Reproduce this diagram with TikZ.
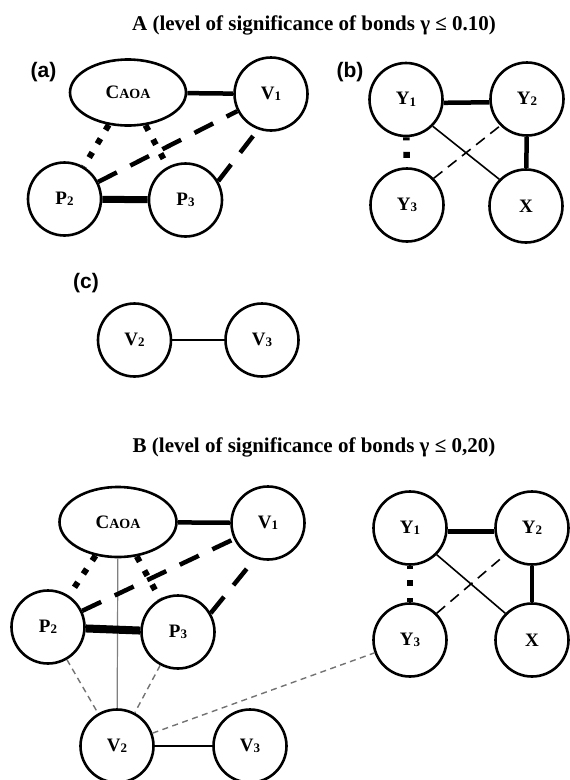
\documentclass[tikz,border=0pt]{standalone}
\usepackage{fontspec}
\setmainfont{Liberation Serif}
\newfontfamily\panelfont{Liberation Sans}
\usetikzlibrary{shapes.geometric}

% subscript index set small and slightly lowered
\newcommand{\idx}[1]{\raisebox{-1.5pt}{\fontsize{13}{13}\selectfont #1}}
\newcommand{\caoa}{C{\fontsize{14}{14}\selectfont AOA}}

\tikzset{
  vnode/.style={circle, draw, line width=2.6pt, minimum size=73pt, inner sep=0pt,
    font=\fontsize{19}{19}\selectfont\bfseries},
  cnode/.style={ellipse, draw, line width=2.6pt, minimum width=116pt, minimum height=66pt,
    inner sep=0pt, font=\fontsize{19}{19}\selectfont\bfseries},
  strongbond/.style={line width=4.5pt},
  strongestbond/.style={line width=7pt},
  dotbond/.style={line width=6pt, dash pattern=on 6pt off 10pt},
  dashbond/.style={line width=4.5pt, dash pattern=on 21pt off 15pt},
  thinbond/.style={line width=1.6pt},
  thindash/.style={line width=1.6pt, dash pattern=on 11pt off 7pt},
  graysolid/.style={line width=1.2pt, draw=black!50},
  graydash/.style={line width=1.4pt, draw=black!55, dash pattern=on 6pt off 4.5pt},
  panellabel/.style={font=\panelfont\bfseries\fontsize{21}{21}\selectfont},
  heading/.style={font=\bfseries\fontsize{21}{21}\selectfont, anchor=base},
}

\begin{document}
\begin{tikzpicture}[x=1pt, y=-1pt]
\useasboundingbox (0,0) rectangle (570,780);
\clip (0,0) rectangle (570,780);

% ---------- A ----------
\node[heading] (titleA) at (314,30.7) {A (level of significance of bonds γ ≤ 0.10)};

% (a)
\node[panellabel] (labA) at (43.5,72) {(a)};
\node[cnode] (CA)  at (128,92.5) {\caoa};
\node[vnode] (V1A) at (271,94)   {V\idx{1}};
\node[vnode] (P2A) at (64.5,199) {P\idx{2}};
\node[vnode] (P3A) at (185.5,200) {P\idx{3}};

\draw[strongbond] (CA) -- (V1A);
\draw[strongestbond] (P2A) -- (P3A);
\draw[dotbond] (CA) -- (P2A);
\draw[dotbond] (CA) -- (P3A);
\draw[dashbond] (P2A) -- (V1A);
\draw[dashbond] (P3A.30) -- (V1A.-110);

% (b)
\node[panellabel] (labB) at (350,72) {(b)};
\node[vnode] (Y1A) at (406,99.5) {Y\idx{1}};
\node[vnode] (Y2A) at (527,99)   {Y\idx{2}};
\node[vnode] (Y3A) at (407,205)  {Y\idx{3}};
\node[vnode] (XA)  at (526,206)  {X};

\draw[strongbond] (Y1A.-5) -- (Y2A.-175);
\draw[strongbond] (Y2A) -- (XA);
\draw[dotbond, dash pattern=on 6pt off 11.5pt, dash phase=3pt, line width=6.5pt] (Y1A) -- (Y3A);
\draw[thinbond] (Y1A.-45) -- (XA.135);
\draw[thindash] (Y3A.45) -- (Y2A.-135);

% (c)
\node[panellabel] (labC) at (86,283) {(c)};
\node[vnode] (V2C) at (134.5,340) {V\idx{2}};
\node[vnode] (V3C) at (262,340)   {V\idx{3}};
\draw[line width=1.8pt] (V2C) -- (V3C);

% ---------- B ----------
\node[heading] (titleB) at (314,452) {B (level of significance of bonds γ ≤ 0,20)};

\node[cnode, minimum height=70pt, minimum width=117pt] (CB) at (118,522) {\caoa};
\node[vnode] (V1B) at (268,523) {V\idx{1}};
\node[vnode] (P2B) at (48,627)  {P\idx{2}};
\node[vnode] (P3B) at (178,632) {P\idx{3}};
\node[vnode] (V2B) at (117,746) {V\idx{2}};
\node[vnode] (V3B) at (250,746) {V\idx{3}};

\node[vnode] (Y1B) at (410,528) {Y\idx{1}};
\node[vnode] (Y2B) at (532,528) {Y\idx{2}};
\node[vnode] (Y3B) at (410,640) {Y\idx{3}};
\node[vnode] (XB)  at (532,640) {X};

\draw[graysolid] (CB) -- (V2B);
\draw[graydash] (P2B) -- (V2B);
\draw[graydash] (P3B) -- (V2B);
\draw[graydash] (V2B) -- (Y3B);

\draw[strongbond] (CB) -- (V1B);
\draw[strongestbond, line width=8pt] (P2B) -- (P3B);
\draw[dotbond] (CB) -- (P2B);
\draw[dotbond] (CB) -- (P3B);
\draw[dashbond] (P2B) -- (V1B);
\draw[dashbond] (P3B.30) -- (V1B.-110);
\draw[line width=1.8pt] (V2B) -- (V3B);

\draw[strongbond] (Y1B.-5) -- (Y2B.-175);
\draw[strongbond] (Y2B) -- (XB);
\draw[dotbond, dash pattern=on 6pt off 11.5pt, dash phase=3pt, line width=6.5pt] (Y1B) -- (Y3B);
\draw[thinbond] (Y1B.-45) -- (XB.135);
\draw[thindash] (Y3B.45) -- (Y2B.-135);
\end{tikzpicture}
\end{document}
